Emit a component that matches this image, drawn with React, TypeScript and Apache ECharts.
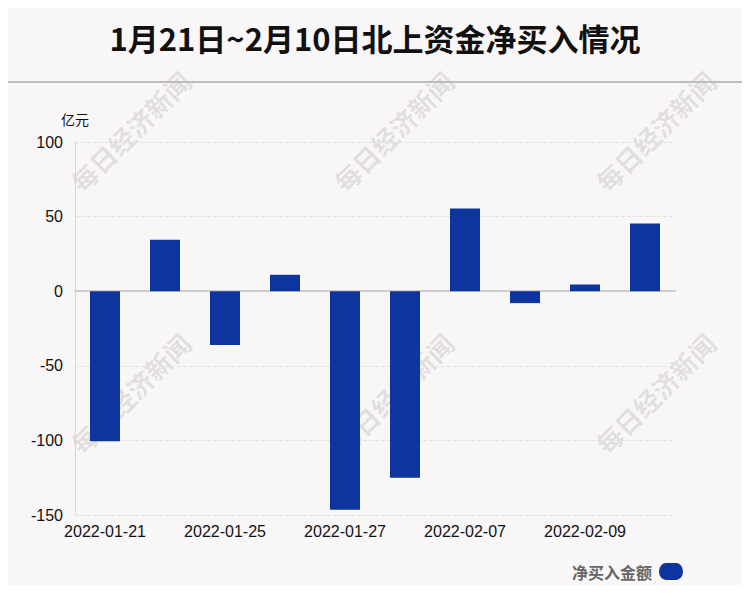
import React, { useEffect, useRef } from "react";
import * as echarts from "echarts";

const categories = [
  "2022-01-21", "2022-01-24", "2022-01-25", "2022-01-26", "2022-01-27",
  "2022-01-28", "2022-02-07", "2022-02-08", "2022-02-09", "2022-02-10",
];
const netBuy = [-100.5, 34.5, -36, 11, -146.5, -125, 55.5, -8, 4.5, 45.3];
const titleText = "1月21日~2月10日北上资金净买入情况";
const seriesName = "净买入金额";
const unitName = "亿元";
const watermarkText = "每日经济新闻";
const watermarkCenters = [
  [130, 131], [393, 131], [655, 131],
  [130, 393], [393, 393], [655, 393],
];

export default function App() {
  const ref = useRef<HTMLDivElement>(null);
  useEffect(() => {
    const chart = echarts.init(ref.current!, null, { renderer: "svg" });
    const watermarks = watermarkCenters.map(([x, y]) => ({
      type: "text",
      x,
      y,
      rotation: Math.PI / 4,
      silent: true,
      z: -10,
      style: {
        text: watermarkText,
        fill: "rgba(0,0,0,0.1)",
        font: 'bold 26px "Noto Sans CJK SC", sans-serif',
        align: "center",
        verticalAlign: "middle",
      },
    }));
    chart.setOption({
      animation: false,
      backgroundColor: "#f9f6f7",
      title: {
        text: titleText,
        left: "center",
        top: 17,
        textStyle: {
          fontSize: 31,
          fontWeight: "bold",
          color: "#111",
          fontFamily: '"Noto Sans CJK SC", sans-serif',
        },
      },
      graphic: [
        {
          type: "line",
          shape: { x1: 0, y1: 82, x2: 750, y2: 82 },
          style: { stroke: "#bdbdbd", lineWidth: 2 },
        },
        ...watermarks,
      ],
      legend: {
        right: 62,
        bottom: 8,
        align: "right",
        itemWidth: 24,
        itemHeight: 17,
        itemGap: 6,
        icon: "path://M7,0 H17 A7,8.5 0 0 1 17,17 H7 A7,8.5 0 0 1 7,0 Z",
        textStyle: {
          color: "#666",
          fontSize: 16,
          fontWeight: "bold",
          padding: [0, 2, 0, 0],
          fontFamily: '"Noto Sans CJK SC", sans-serif',
        },
        data: [seriesName],
      },
      grid: { left: 75, right: 75, top: 142, bottom: 78 },
      xAxis: {
        type: "category",
        data: categories,
        axisTick: { show: false },
        axisLine: { onZero: true, lineStyle: { color: "#cccccc", width: 2 } },
        axisLabel: {
          interval: 1,
          color: "#111",
          fontSize: 16,
          margin: 8,
          fontFamily: '"Liberation Sans", Arial, sans-serif',
        },
      },
      yAxis: {
        type: "value",
        name: unitName,
        nameGap: 16,
        nameTextStyle: {
          color: "#111",
          fontSize: 14,
          align: "center",
          fontFamily: '"Noto Sans CJK SC", sans-serif',
        },
        min: -150,
        max: 100,
        interval: 50,
        axisLine: { show: true, lineStyle: { color: "#d6d6d6", width: 1 } },
        axisTick: { show: false },
        axisLabel: {
          color: "#111",
          fontSize: 16,
          margin: 12,
          fontFamily: '"Liberation Sans", Arial, sans-serif',
        },
        splitLine: { lineStyle: { color: "#e2e2e2", type: "dashed" } },
      },
      series: [
        {
          name: seriesName,
          type: "bar",
          z: 50,
          data: netBuy,
          barWidth: 30,
          itemStyle: { color: "#0e349d" },
        },
      ],
    });
    return () => chart.dispose();
  }, []);
  return <div ref={ref} style={{ width: 750, height: 593, margin: -8 }} />;
}
